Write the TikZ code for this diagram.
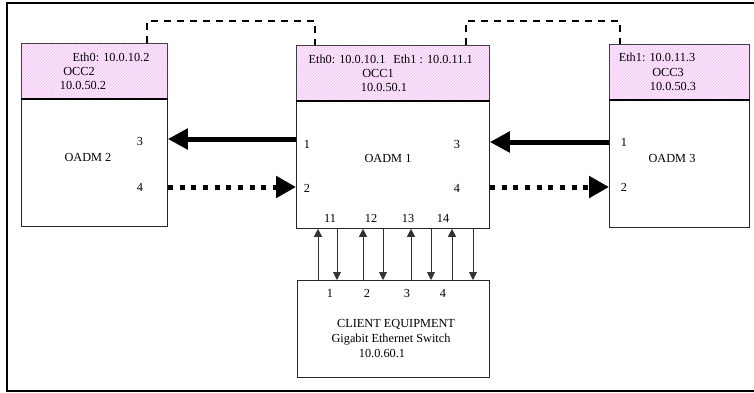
\documentclass[tikz,border=0pt]{standalone}
\usepackage{fontspec}
\setmainfont{Liberation Serif}
\usetikzlibrary{arrows.meta,patterns}
\definecolor{hdrpink}{RGB}{253,232,253}
\definecolor{hdrline}{RGB}{244,192,244}
\begin{document}
\begin{tikzpicture}[x=1pt,y=-1pt,font=\fontsize{12.3}{14}\selectfont]
\tikzset{
  hdr/.style={draw=black!75, line width=0.8pt, preaction={fill=hdrpink}, pattern=north east lines, pattern color=hdrline, anchor=north west, inner sep=0pt},
  bodybox/.style={draw=black!85, line width=0.8pt, fill=white, anchor=north west, inner sep=0pt},
  sepline/.style={line width=1.4pt, black},
  lbl/.style={anchor=base, inner sep=0pt},
  bigsolid/.style={line width=5pt, -{Triangle[length=20pt,width=20pt]}},
  bigdot/.style={line width=5pt, line cap=butt, dash pattern=on 5pt off 6.7pt, -{Triangle[length=20pt,width=21pt]}},
  smallarr/.style={line width=0.9pt, black!80, -{Triangle[length=8pt,width=8pt]}},
  dlink/.style={line width=1.5pt, dash pattern=on 7pt off 6pt},
}
\useasboundingbox (0,0) rectangle (754,392);
\draw[line width=2pt] (754,3) -- (7,3) -- (7,391) -- (754,391);

% OADM 2
\node[hdr, minimum width=146pt, minimum height=55pt] (o2h) at (21,43) {};
\node[bodybox, minimum width=146pt, minimum height=128pt] (o2b) at (21,98) {};
\draw[sepline] (o2h.south west) -- (o2h.south east);
% OADM 1
\node[hdr, minimum width=193pt, minimum height=55pt] (o1h) at (296,45) {};
\node[bodybox, minimum width=193pt, minimum height=128pt] (o1b) at (296,100) {};
\draw[sepline] (o1h.south west) -- (o1h.south east);
% OADM 3
\node[hdr, minimum width=140pt, minimum height=55pt] (o3h) at (609,44) {};
\node[bodybox, minimum width=140pt, minimum height=128pt] (o3b) at (609,99) {};
\draw[sepline] (o3h.south west) -- (o3h.south east);
% Client
\node[bodybox, minimum width=192pt, minimum height=97pt] (cl) at (297,280) {};

% header texts
\node[lbl] (t2a) at (111,61) {Eth0: 10.0.10.2};
\node[lbl] (t2b) at (79,75) {OCC2};
\node[lbl] (t2c) at (83,89) {10.0.50.2};
\node[lbl] (t1a) at (347,63) {Eth0: 10.0.10.1};
\node[lbl] (t1d) at (433,63) {Eth1 : 10.0.11.1};
\node[lbl] (t1b) at (378,77) {OCC1};
\node[lbl] (t1c) at (384,91) {10.0.50.1};
\node[lbl] (t3a) at (657,61) {Eth1: 10.0.11.3};
\node[lbl] (t3b) at (668,76) {OCC3};
\node[lbl] (t3c) at (673,90) {10.0.50.3};

% body texts
\node[lbl] (p23) at (140,145) {3};
\node[lbl] (n2) at (88,161) {OADM 2};
\node[lbl] (p24) at (140,191) {4};
\node[lbl] (p11) at (307,148) {1};
\node[lbl] (p13) at (457,148) {3};
\node[lbl] (n1) at (388,162) {OADM 1};
\node[lbl] (p12) at (307,192) {2};
\node[lbl] (p14) at (457,192) {4};
\node[lbl] (q11) at (330,222) {11};
\node[lbl] (q12) at (371,222) {12};
\node[lbl] (q13) at (408,222) {13};
\node[lbl] (q14) at (443,222) {14};
\node[lbl] (p31) at (624,146) {1};
\node[lbl] (n3) at (672,162) {OADM 3};
\node[lbl] (p32) at (624,191) {2};
\node[lbl] (c1) at (330,297) {1};
\node[lbl] (c2) at (367,297) {2};
\node[lbl] (c3) at (407,297) {3};
\node[lbl] (c4) at (443,297) {4};
\node[lbl] (ct1) at (396,327) {CLIENT EQUIPMENT};
\node[lbl] (ct2) at (391,342) {Gigabit Ethernet Switch};
\node[lbl] (ct3) at (382,357) {10.0.60.1};

% big connectors
\coordinate (ysolA) at (0,139);
\coordinate (ysolB) at (0,142);
\coordinate (ydot) at (0,187);
\draw[bigsolid] (o1b.west |- ysolA) -- (o2b.east |- ysolA);
\draw[bigsolid] (o3b.west |- ysolB) -- (o1b.east |- ysolB);
\draw[bigdot] (o2b.east |- ydot) -- (o1b.west |- ydot);
\draw[bigdot] (o1b.east |- ydot) -- (o3b.west |- ydot);

% small client arrows
\foreach \xx in {318,363,411,452}
  \draw[smallarr] (cl.north -| \xx,0) -- (o1b.south -| \xx,0);
\foreach \xx in {337,383,431,473}
  \draw[smallarr] (o1b.south -| \xx,0) -- (cl.north -| \xx,0);

% dashed OCC links
\draw[dlink] (o2h.north -| 147,0) |- (315,21) -- (o1h.north -| 315,0);
\draw[dlink] (o1h.north -| 466,0) |- (620,21) -- (o3h.north -| 620,0);
\end{tikzpicture}
\end{document}
